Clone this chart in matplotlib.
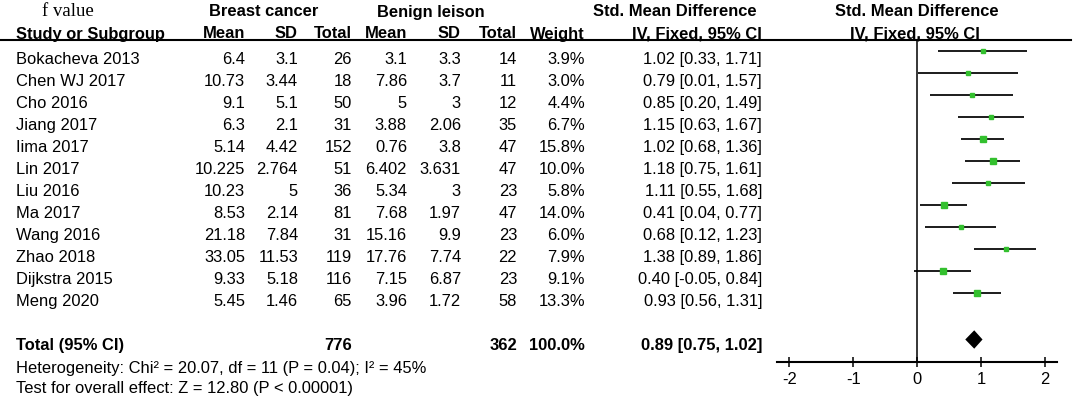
import matplotlib
matplotlib.use("Agg")
import matplotlib.pyplot as plt
import matplotlib.transforms as mtransforms
from matplotlib.lines import Line2D

# Study data (f value, breast cancer vs benign lesion)
studies = ["Bokacheva 2013", "Chen WJ 2017", "Cho 2016", "Jiang 2017", "Iima 2017",
           "Lin 2017", "Liu 2016", "Ma 2017", "Wang 2016", "Zhao 2018",
           "Dijkstra 2015", "Meng 2020"]
bc_mean = [6.4, 10.73, 9.1, 6.3, 5.14, 10.225, 10.23, 8.53, 21.18, 33.05, 9.33, 5.45]
bc_sd = [3.1, 3.44, 5.1, 2.1, 4.42, 2.764, 5, 2.14, 7.84, 11.53, 5.18, 1.46]
bc_total = [26, 18, 50, 31, 152, 51, 36, 81, 31, 119, 116, 65]
bl_mean = [3.1, 7.86, 5, 3.88, 0.76, 6.402, 5.34, 7.68, 15.16, 17.76, 7.15, 3.96]
bl_sd = [3.3, 3.7, 3, 2.06, 3.8, 3.631, 3, 1.97, 9.9, 7.74, 6.87, 1.72]
bl_total = [14, 11, 12, 35, 47, 47, 23, 47, 23, 22, 23, 58]
weights = [3.9, 3.0, 4.4, 6.7, 15.8, 10.0, 5.8, 14.0, 6.0, 7.9, 9.1, 13.3]
smd = [1.02, 0.79, 0.85, 1.15, 1.02, 1.18, 1.11, 0.41, 0.68, 1.38, 0.40, 0.93]
ci_low = [0.33, 0.01, 0.20, 0.63, 0.68, 0.75, 0.55, 0.04, 0.12, 0.89, -0.05, 0.56]
ci_high = [1.71, 1.57, 1.49, 1.67, 1.36, 1.61, 1.68, 0.77, 1.23, 1.86, 0.84, 1.31]
pooled_smd = 0.89
pooled_low = 0.75
pooled_high = 1.02
pooled_weight = 100.0
x_ticks = [-2, -1, 0, 1, 2]
heterogeneity = "Heterogeneity: Chi² = 20.07, df = 11 (P = 0.04); I² = 45%"
overall_effect = "Test for overall effect: Z = 12.80 (P < 0.00001)"

W, H = 1074, 402
SANS = "Liberation Sans"
FS = 11.9
GREEN = "#33c02e"

fig = plt.figure(figsize=(W / 100, H / 100), dpi=100)


def fx(px):
    return px / W


def fy(py):
    return 1 - py / H


# forest panel: rows 0..11 are studies, total sits a bit lower
row_top, row_step = 52.3, 22.0
total_row = 13.1
ax_top, ax_bottom = 41.0, 362.7
ax = fig.add_axes([fx(777.3), fy(ax_bottom), (1056.7 - 777.3) / W, (ax_bottom - ax_top) / H])
ax.set_xlim(-2.19, 2.18)
ax.set_ylim((ax_bottom - row_top) / row_step, (ax_top - row_top) / row_step)
ax.patch.set_visible(False)
for side in ["top", "left", "right"]:
    ax.spines[side].set_visible(False)
ax.spines["bottom"].set_linewidth(1.5)
ax.set_yticks([])
ax.set_xticks(x_ticks)
ax.set_xticklabels([str(t) for t in x_ticks], fontfamily=SANS, fontsize=FS)
ax.tick_params(axis="x", direction="inout", length=7.2, width=1.1, pad=3)
ax.axvline(0, color="black", lw=1.1)

rows = list(range(len(studies)))
for i in rows:
    ax.plot([ci_low[i], ci_high[i]], [i, i], color="black", lw=1.25, solid_capstyle="butt")
    ax.plot(smd[i], i, marker="s", color=GREEN, mec=GREEN,
            ms=1.26 * weights[i] ** 0.5, lw=0)

dh = 9.2 / row_step
ax.fill([pooled_low, pooled_smd, pooled_high, pooled_smd],
        [total_row, total_row - dh, total_row, total_row + dh],
        color="black", lw=0)

# header underline across the whole table
fig.add_artist(Line2D([0, fx(1071)], [fy(41), fy(41)], color="black", lw=1.5,
                      transform=fig.transFigure))

# header text
h1, h2 = fy(16.5), fy(38.5)
fig.text(fx(41.7), h1, "f value", fontfamily="Liberation Serif", fontsize=13.5, va="baseline")
for label, cx in [("Breast cancer", 264), ("Benign leison", 431),
                  ("Std. Mean Difference", 675), ("Std. Mean Difference", 917)]:
    fig.text(fx(cx), h1, label, fontfamily=SANS, fontsize=FS, fontweight="bold",
             ha="center", va="baseline")
fig.text(fx(16), h2, "Study or Subgroup", fontfamily=SANS, fontsize=FS,
         fontweight="bold", va="baseline")
col_right = [245, 298, 352, 407, 461, 517, 585, 762]
col_names = ["Mean", "SD", "Total", "Mean", "SD", "Total", "Weight", "IV, Fixed, 95% CI"]
for label, rx in zip(col_names, col_right):
    fig.text(fx(rx), h2, label, fontfamily=SANS, fontsize=FS, fontweight="bold",
             ha="right", va="baseline")
fig.text(fx(915), h2, "IV, Fixed, 95% CI", fontfamily=SANS, fontsize=FS,
         fontweight="bold", ha="center", va="baseline")

# table rows share the forest y scale
row_trans = mtransforms.offset_copy(
    mtransforms.blended_transform_factory(fig.transFigure, ax.transData),
    fig=fig, y=-11.8, units="dots")


def row_text(x, y, s, ha="right", bold=False):
    fig.text(fx(x), y, s, transform=row_trans, fontfamily=SANS, fontsize=FS,
             fontweight="bold" if bold else "normal", ha=ha, va="baseline")


for i in rows:
    row_text(16, i, studies[i], ha="left")
    cells = [f"{bc_mean[i]:g}", f"{bc_sd[i]:g}", f"{bc_total[i]}",
             f"{bl_mean[i]:g}", f"{bl_sd[i]:g}", f"{bl_total[i]}",
             f"{weights[i]:.1f}%", f"{smd[i]:.2f} [{ci_low[i]:.2f}, {ci_high[i]:.2f}]"]
    for s, rx in zip(cells, col_right):
        row_text(rx, i, s)

# summary line text sits a touch above the diamond centre
total_text_row = total_row - 0.1
row_text(16, total_text_row, "Total (95% CI)", ha="left", bold=True)
row_text(352, total_text_row, f"{sum(bc_total)}", bold=True)
row_text(517, total_text_row, f"{sum(bl_total)}", bold=True)
row_text(585, total_text_row, f"{pooled_weight:.1f}%", bold=True)
row_text(762, total_text_row, f"{pooled_smd:.2f} [{pooled_low:.2f}, {pooled_high:.2f}]", bold=True)

fig.text(fx(16), fy(373.5), heterogeneity, fontfamily=SANS, fontsize=FS, va="baseline")
fig.text(fx(16), fy(393.5), overall_effect, fontfamily=SANS, fontsize=FS, va="baseline")

fig.savefig("out.png", dpi=100)
